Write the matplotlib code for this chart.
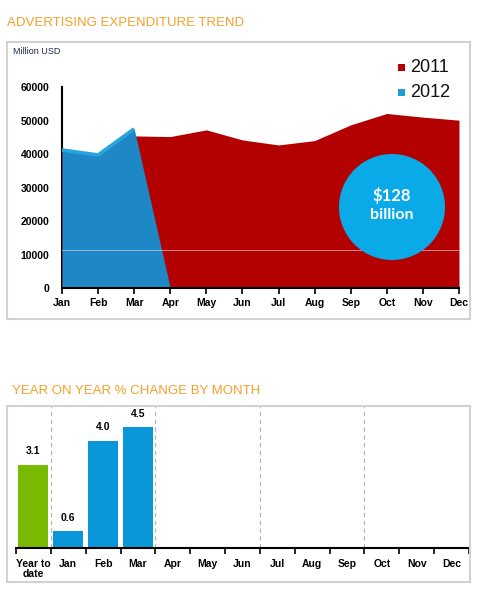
import matplotlib
matplotlib.use("Agg")
import matplotlib.pyplot as plt
from matplotlib.patches import Rectangle, Circle
import numpy as np

# ---- data ----
months = ["Jan", "Feb", "Mar", "Apr", "May", "Jun", "Jul", "Aug", "Sep", "Oct", "Nov", "Dec"]
spend_2011 = [40750, 38000, 45400, 45200, 47200, 44200, 42700, 44000, 48700, 52100, 51000, 50100]
spend_2012 = [41200, 39700, 47500, 0]
yticks_top = [0, 10000, 20000, 30000, 40000, 50000, 60000]

yoy_categories = ["Year to\ndate", "Jan", "Feb", "Mar", "Apr", "May", "Jun",
                  "Jul", "Aug", "Sep", "Oct", "Nov", "Dec"]
yoy_values = [3.1, 0.6, 4.0, 4.5]
total_label = ["$128", "billion"]

RED = "#b30000"
BLUE_DARK = "#1e88c6"
BLUE_LIGHT = "#27a4de"
CIRCLE = "#0aaae8"
ORANGE = "#f5a02a"
GREEN = "#79b900"
BAR_BLUE = "#0a97d9"
BORDER = "#d2d2d2"

FONT = ["Liberation Sans Narrow", "Liberation Sans", "DejaVu Sans"]
plt.rcParams["font.family"] = ["Liberation Sans", "DejaVu Sans"]

W, H = 481, 599
fig = plt.figure(figsize=(W / 100, H / 100), dpi=100)

def fx(px):
    return px / W

def fy(py):
    return 1 - py / H

# panel boxes
fig.patches.append(Rectangle((fx(7), fy(319)), fx(463), 277 / H, transform=fig.transFigure,
                             fill=False, edgecolor=BORDER, linewidth=1.5, zorder=0))
fig.patches.append(Rectangle((fx(7), fy(582)), fx(463), 176 / H, transform=fig.transFigure,
                             fill=False, edgecolor=BORDER, linewidth=1.5, zorder=0))

# titles
fig.text(fx(7), fy(23), "ADVERTISING EXPENDITURE TREND", color=ORANGE, fontsize=9.5,
         va="center", ha="left")
fig.text(fx(12), fy(391), "YEAR ON YEAR % CHANGE BY MONTH", color=ORANGE, fontsize=9.5,
         va="center", ha="left")
fig.text(fx(13), fy(52), "Million USD", color="#1b2a48", fontsize=6.5, va="center", ha="left")

# ---- top area chart ----
ax = fig.add_axes([fx(62), fy(288), fx(459) - fx(62), (288 - 87) / H])
x = np.arange(len(months))
ax.fill_between(x, spend_2011, 0, color=RED, linewidth=0, zorder=2)
x12 = np.arange(len(spend_2012))
ax.fill_between(x12, spend_2012, 0, color=BLUE_DARK, linewidth=0, zorder=3)
ax.plot(x12[:3], spend_2012[:3], color=BLUE_LIGHT, linewidth=2.6, zorder=4,
        solid_capstyle="butt")
ax.set_xlim(0, len(months) - 1)
ax.set_ylim(0, 60000)
ax.set_xticks(x)
ax.set_xticklabels(months, fontfamily=FONT, fontweight="bold", fontsize=7.5)
ax.set_yticks(yticks_top)
ax.set_yticklabels([str(v) for v in yticks_top], fontfamily=FONT, fontweight="bold", fontsize=7.5)
ax.tick_params(axis="x", length=4, width=1.2, color="black", pad=3, direction="out")
ax.tick_params(axis="y", length=0, pad=9)
for s in ["top", "right"]:
    ax.spines[s].set_visible(False)
ax.spines["left"].set_linewidth(1.5)
ax.spines["left"].set_zorder(1)
ax.spines["bottom"].set_linewidth(1.5)
ax.spines["bottom"].set_zorder(5)
ax.set_facecolor("none")
# faint horizontal line artifact
ax.axhline(11300, color="#dddddd", linewidth=0.6, alpha=0.7, zorder=6)

# legend
fig.patches.append(Rectangle((fx(398), fy(71)), fx(7), 7 / H, transform=fig.transFigure,
                             facecolor=RED, edgecolor="none"))
fig.patches.append(Rectangle((fx(398), fy(96)), fx(7), 7 / H, transform=fig.transFigure,
                             facecolor="#1d9bd8", edgecolor="none"))
fig.text(fx(410), fy(67), "2011", fontsize=13, va="center", ha="left", color="#111111")
fig.text(fx(410), fy(92), "2012", fontsize=13, va="center", ha="left", color="#111111")

# circle callout
circ = Circle((3.92, (H - 207) / 100), 0.53, transform=fig.dpi_scale_trans,
              facecolor=CIRCLE, edgecolor="none", zorder=5)
fig.patches.append(circ)
fig.text(fx(392), fy(195), total_label[0], color="white", fontsize=12, fontweight="bold",
         ha="center", va="center", family=["Lato", "DejaVu Sans"], zorder=6)
fig.text(fx(392), fy(215), total_label[1], color="white", fontsize=11.5, fontweight="bold",
         ha="center", va="center", family=["Lato", "DejaVu Sans"], zorder=6)

# ---- bottom bar chart ----
ax2 = fig.add_axes([fx(16), fy(547.5), fx(469) - fx(16), (547.5 - 406) / H])
xb = np.arange(len(yoy_categories))
colors = [GREEN] + [BAR_BLUE] * (len(yoy_values) - 1)
ax2.bar(xb[:len(yoy_values)], yoy_values, width=0.86, color=colors, zorder=2)
for xi, v in zip(xb, yoy_values):
    ax2.annotate(f"{v:.1f}", (xi, v), xytext=(0, 6), textcoords="offset points",
                 ha="center", va="bottom", fontsize=7.5, fontweight="bold", fontfamily=FONT)
ax2.set_xlim(-0.5, len(yoy_categories) - 0.5)
ax2.set_ylim(0, 5.3)
ax2.set_xticks(xb)
ax2.set_xticklabels(yoy_categories, fontfamily=FONT, fontweight="bold", fontsize=7.5,
                    linespacing=1.0)
ax2.set_xticks(np.arange(-0.5, len(yoy_categories)), minor=True)
ax2.tick_params(axis="x", which="major", length=0, pad=8)
ax2.tick_params(axis="x", which="minor", length=4, width=1.2, direction="out")
ax2.set_yticks([])
for s in ["top", "right", "left"]:
    ax2.spines[s].set_visible(False)
ax2.spines["bottom"].set_linewidth(1.5)
for sep in [0.5, 3.5, 6.5, 9.5]:
    ax2.axvline(sep, color="#b5b5b5", linewidth=0.8, linestyle=(0, (4, 3)), zorder=1)
ax2.set_facecolor("none")

fig.savefig("out.png", dpi=100)
